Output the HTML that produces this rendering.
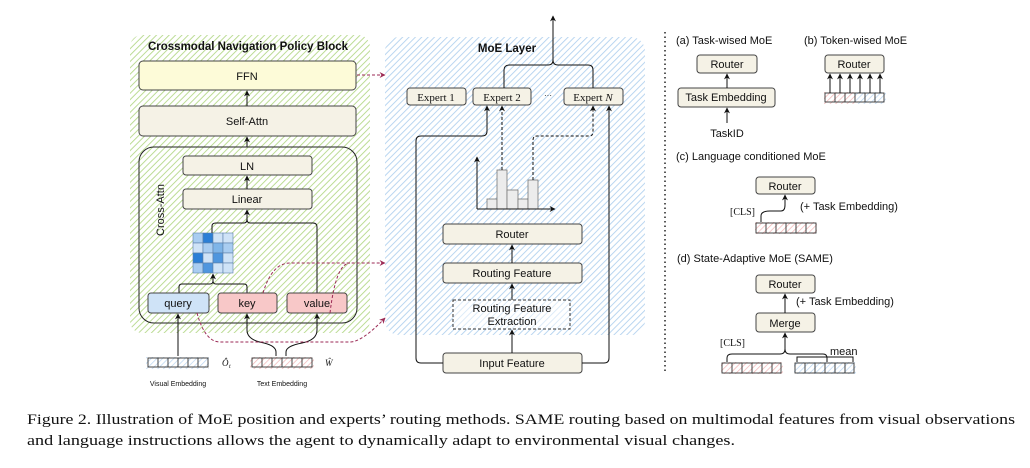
<!DOCTYPE html>
<html><head><meta charset="utf-8"><style>
html,body{margin:0;padding:0;background:#fff}
svg{display:block}
text{font-family:"Liberation Sans",sans-serif;fill:#111}
.s{font-family:"Liberation Serif",serif}
</style></head><body>
<svg width="1030" height="468" viewBox="0 0 1030 468" xmlns="http://www.w3.org/2000/svg">
<defs>
<pattern id="g" width="4.5" height="4.5" patternUnits="userSpaceOnUse" patternTransform="rotate(45)"><rect width="5" height="5" fill="#fff"/><line x1="0" y1="0" x2="0" y2="5" stroke="#b5d98a" stroke-width="1.8"/></pattern>
<pattern id="b" width="4.5" height="4.5" patternUnits="userSpaceOnUse" patternTransform="rotate(45)"><rect width="5" height="5" fill="#fff"/><line x1="0" y1="0" x2="0" y2="5" stroke="#b3d2ef" stroke-width="1.8"/></pattern>
<pattern id="r" width="4" height="4" patternUnits="userSpaceOnUse" patternTransform="rotate(45)"><rect width="4" height="4" fill="#fff"/><line x1="0" y1="0" x2="0" y2="4" stroke="#f2b3b3" stroke-width="1.4"/></pattern>
<pattern id="bl" width="4" height="4" patternUnits="userSpaceOnUse" patternTransform="rotate(45)"><rect width="4" height="4" fill="#fff"/><line x1="0" y1="0" x2="0" y2="4" stroke="#b7d4f0" stroke-width="1.4"/></pattern>
<marker id="a" viewBox="0 0 10 10" refX="9" refY="5" markerWidth="6" markerHeight="6" orient="auto-start-reverse"><path d="M0,0 L10,5 L0,10 L3,5z" fill="#111"/></marker>
<marker id="ar" viewBox="0 0 10 10" refX="9" refY="5" markerWidth="6" markerHeight="6" orient="auto"><path d="M0,0 L10,5 L0,10 L3,5z" fill="#9b2a55"/></marker>
</defs>

<!-- green block -->
<rect x="130" y="35" width="240" height="298" rx="12" fill="url(#g)"/>
<text x="248" y="50" font-size="11.5" font-weight="bold" text-anchor="middle">Crossmodal Navigation Policy Block</text>
<rect x="139" y="61" width="217" height="29" rx="4" fill="#fdfbd8" stroke="#444"/>
<text x="247" y="80" font-size="11" text-anchor="middle">FFN</text>
<rect x="139" y="106" width="217" height="30" rx="4" fill="#f5f2e6" stroke="#444"/>
<text x="247" y="125" font-size="11" text-anchor="middle">Self-Attn</text>
<line x1="247" y1="106" x2="247" y2="91" stroke="#111" marker-end="url(#a)"/>
<line x1="247" y1="147" x2="247" y2="137" stroke="#111" marker-end="url(#a)"/>
<rect x="139" y="147" width="218" height="176" rx="15" fill="none" stroke="#222"/>
<text transform="translate(164,210) rotate(-90)" font-size="11" text-anchor="middle">Cross-Attn</text>
<rect x="183" y="156" width="129" height="19" rx="3" fill="#f5f2e6" stroke="#444"/>
<text x="247" y="170" font-size="11" text-anchor="middle">LN</text>
<rect x="183" y="189" width="129" height="20" rx="3" fill="#f5f2e6" stroke="#444"/>
<text x="247" y="203" font-size="11" text-anchor="middle">Linear</text>
<line x1="247" y1="189" x2="247" y2="176" stroke="#111" marker-end="url(#a)"/>
<g stroke="#5a7fa8" stroke-width="0.6">
<rect x="193" y="233" width="10" height="10" fill="#a9cdf1"/><rect x="203" y="233" width="10" height="10" fill="#2b7fd6"/><rect x="213" y="233" width="10" height="10" fill="#cfe3f7"/><rect x="223" y="233" width="10" height="10" fill="#cfe3f7"/>
<rect x="193" y="243" width="10" height="10" fill="#cfe3f7"/><rect x="203" y="243" width="10" height="10" fill="#a9cdf1"/><rect x="213" y="243" width="10" height="10" fill="#7fb5e8"/><rect x="223" y="243" width="10" height="10" fill="#a9cdf1"/>
<rect x="193" y="253" width="10" height="10" fill="#2b7fd6"/><rect x="203" y="253" width="10" height="10" fill="#cfe3f7"/><rect x="213" y="253" width="10" height="10" fill="#4f96de"/><rect x="223" y="253" width="10" height="10" fill="#cfe3f7"/>
<rect x="193" y="263" width="10" height="10" fill="#a9cdf1"/><rect x="203" y="263" width="10" height="10" fill="#4f96de"/><rect x="213" y="263" width="10" height="10" fill="#cfe3f7"/><rect x="223" y="263" width="10" height="10" fill="#cfe3f7"/>
</g>
<path d="M212,233 V226 Q212,223 216,223 H244 Q247,223 247,219 Q247,223 250,223 H313 Q317,223 317,227 V293" fill="none" stroke="#111"/>
<line x1="247" y1="221" x2="247" y2="210" stroke="#111" marker-end="url(#a)"/>
<path d="M179,293 V287 Q179,284 182,284 H210 Q213,284 213,281 Q213,284 216,284 H244 Q247,284 247,287 V293" fill="none" stroke="#111"/>
<line x1="213" y1="283" x2="213" y2="274" stroke="#111" marker-end="url(#a)"/>
<rect x="148" y="293" width="61" height="20" rx="3" fill="#cfe3f7" stroke="#444"/>
<text x="178" y="307" font-size="11" text-anchor="middle">query</text>
<rect x="218" y="293" width="59" height="20" rx="3" fill="#f8c8c8" stroke="#444"/>
<text x="247" y="307" font-size="11" text-anchor="middle">key</text>
<rect x="287" y="293" width="60" height="20" rx="3" fill="#f8c8c8" stroke="#444"/>
<text x="317" y="307" font-size="11" text-anchor="middle">value</text>
<line x1="178" y1="356" x2="178" y2="314" stroke="#111" marker-end="url(#a)"/>
<path d="M276,356 V352 Q276,346 264,343 Q247,340 247,330 V314" fill="none" stroke="#111" marker-end="url(#a)"/>
<path d="M286,356 V352 Q286,346 302,343 Q317,340 317,330 V314" fill="none" stroke="#111" marker-end="url(#a)"/>
<rect x="146" y="357" width="63" height="12" fill="url(#bl)"/>
<rect x="250" y="357" width="64" height="12" fill="url(#r)"/>
<g stroke="#333" fill="none" stroke-width="0.9">
<rect x="148" y="358" width="60" height="9"/><path d="M158,358v9M168,358v9M178,358v9M188,358v9M198,358v9"/>
<rect x="252" y="358" width="60" height="9"/><path d="M262,358v9M272,358v9M282,358v9M292,358v9M302,358v9"/>
</g>
<text x="222" y="366" font-size="9" class="s" font-style="italic">Ô</text><text x="229" y="368" font-size="6" class="s" font-style="italic">t</text>
<text x="325" y="366" font-size="9" class="s" font-style="italic">Ŵ</text>
<text x="178" y="386" font-size="7" text-anchor="middle">Visual Embedding</text>
<text x="282" y="386" font-size="7" text-anchor="middle">Text Embedding</text>

<!-- MoE region -->
<rect x="385" y="37" width="260" height="298" rx="14" fill="url(#b)"/>
<text x="507" y="52" font-size="11.5" font-weight="bold" text-anchor="middle">MoE Layer</text>
<g font-size="11" class="s">
<rect x="407" y="88" width="59" height="17" rx="3" fill="#f5f2e6" stroke="#444"/><text x="436" y="101" text-anchor="middle" class="s">Expert 1</text>
<rect x="473" y="88" width="58" height="17" rx="3" fill="#f5f2e6" stroke="#444"/><text x="502" y="101" text-anchor="middle" class="s">Expert 2</text>
<rect x="564" y="88" width="59" height="17" rx="3" fill="#f5f2e6" stroke="#444"/><text x="593" y="101" text-anchor="middle" class="s">Expert <tspan font-style="italic">N</tspan></text>
</g>
<text x="548" y="98" font-size="8" text-anchor="middle">···</text>
<path d="M504,88 V70 Q504,65 510,65 H548 Q553,65 553,60 Q553,65 558,65 H588 Q593,65 593,70 V88" fill="none" stroke="#111"/>
<line x1="553" y1="62" x2="553" y2="16" stroke="#111" marker-end="url(#a)"/>
<g fill="#ececec" stroke="#777" stroke-width="0.8">
<rect x="487" y="199" width="10" height="10"/><rect x="497" y="170" width="10" height="39"/><rect x="507" y="190" width="11" height="19"/><rect x="518" y="199" width="10" height="10"/><rect x="528" y="180" width="10" height="29"/>
</g>
<path d="M477,209 V157" stroke="#111" fill="none" marker-end="url(#a)"/>
<path d="M477,209 H555" stroke="#111" fill="none" marker-end="url(#a)"/>
<line x1="502" y1="170" x2="502" y2="106" stroke="#111" stroke-dasharray="3,2" marker-end="url(#a)"/>
<path d="M533,180 V140 Q533,136 537,136 H589 Q593,136 593,132 V106" fill="none" stroke="#111" stroke-dasharray="3,2" marker-end="url(#a)"/>
<rect x="443" y="224" width="139" height="20" rx="3" fill="#f5f2e6" stroke="#444"/>
<text x="512" y="238" font-size="11" text-anchor="middle">Router</text>
<rect x="443" y="263" width="139" height="20" rx="3" fill="#f5f2e6" stroke="#444"/>
<text x="512" y="277" font-size="11" text-anchor="middle">Routing Feature</text>
<line x1="512" y1="263" x2="512" y2="245" stroke="#111" marker-end="url(#a)"/>
<rect x="453" y="300" width="117" height="29" fill="#fff" fill-opacity="0.5" stroke="#333" stroke-dasharray="3,2"/>
<text x="512" y="312" font-size="11" text-anchor="middle">Routing Feature</text>
<text x="512" y="325" font-size="11" text-anchor="middle">Extraction</text>
<line x1="512" y1="300" x2="512" y2="284" stroke="#111" marker-end="url(#a)"/>
<rect x="443" y="353" width="139" height="20" rx="3" fill="#f5f2e6" stroke="#444"/>
<text x="512" y="367" font-size="11" text-anchor="middle">Input Feature</text>
<line x1="512" y1="353" x2="512" y2="330" stroke="#111" marker-end="url(#a)"/>
<path d="M443,363 H421 Q416,363 416,358 V141 Q416,136 421,136 H482 Q487,136 487,131 V106" fill="none" stroke="#111" marker-end="url(#a)"/>
<path d="M582,363 H604 Q609,363 609,358 V106" fill="none" stroke="#111" marker-end="url(#a)"/>

<g fill="none" stroke="#9b2a55" stroke-dasharray="3,2" stroke-width="1">
<path d="M357,75 H385" marker-end="url(#ar)"/>
<path d="M263,293 Q272,263 290,263 H385" marker-end="url(#ar)"/>
<path d="M330,313 Q336,263 350,263"/>
<path d="M197,313 Q205,342 220,342 H350 Q362,342 385,318" marker-end="url(#ar)"/>
</g>

<line x1="665" y1="32" x2="665" y2="372" stroke="#222" stroke-width="1.5" stroke-dasharray="1.5,3"/>

<g font-size="11">
<text x="676" y="44">(a) Task-wised MoE</text>
<text x="804" y="44">(b) Token-wised MoE</text>
<text x="676" y="160">(c) Language conditioned MoE</text>
<text x="677" y="262">(d) State-Adaptive MoE (SAME)</text>
</g>
<rect x="697" y="55" width="60" height="18" rx="3" fill="#f5f2e6" stroke="#444"/>
<text x="727" y="68" font-size="11" text-anchor="middle">Router</text>
<rect x="678" y="88" width="97" height="19" rx="3" fill="#f5f2e6" stroke="#444"/>
<text x="726" y="101" font-size="11" text-anchor="middle">Task Embedding</text>
<line x1="727" y1="88" x2="727" y2="74" stroke="#111" marker-end="url(#a)"/>
<line x1="727" y1="123" x2="727" y2="108" stroke="#111" marker-end="url(#a)"/>
<text x="727" y="137" font-size="11" text-anchor="middle">TaskID</text>

<rect x="825" y="55" width="59" height="18" rx="3" fill="#f5f2e6" stroke="#444"/>
<text x="854" y="68" font-size="11" text-anchor="middle">Router</text>
<rect x="824" y="92" width="31" height="12" fill="url(#r)"/><rect x="855" y="92" width="31" height="12" fill="url(#bl)"/>
<g stroke="#333" fill="none" stroke-width="0.9"><rect x="825" y="93" width="59" height="9"/><path d="M835,93v9M845,93v9M855,93v9M865,93v9M875,93v9"/></g>
<g stroke="#111"><line x1="830" y1="93" x2="830" y2="74" marker-end="url(#a)"/><line x1="840" y1="93" x2="840" y2="74" marker-end="url(#a)"/><line x1="850" y1="93" x2="850" y2="74" marker-end="url(#a)"/><line x1="860" y1="93" x2="860" y2="74" marker-end="url(#a)"/><line x1="870" y1="93" x2="870" y2="74" marker-end="url(#a)"/><line x1="880" y1="93" x2="880" y2="74" marker-end="url(#a)"/></g>

<rect x="756" y="177" width="59" height="17" rx="3" fill="#f5f2e6" stroke="#444"/>
<text x="785" y="190" font-size="11" text-anchor="middle">Router</text>
<path d="M761,223 V216 Q761,211 770,211 H781 Q785,211 785,205 V195" fill="none" stroke="#111" marker-end="url(#a)"/>
<text x="730" y="215" font-size="10" class="s">[CLS]</text>
<text x="800" y="210" font-size="11">(+ Task Embedding)</text>
<rect x="755" y="222" width="62" height="12" fill="url(#r)"/>
<g stroke="#333" fill="none" stroke-width="0.9"><rect x="756" y="223" width="60" height="10"/><path d="M766,223v10M776,223v10M786,223v10M796,223v10M806,223v10"/></g>

<rect x="756" y="275" width="59" height="18" rx="3" fill="#f5f2e6" stroke="#444"/>
<text x="785" y="288" font-size="11" text-anchor="middle">Router</text>
<rect x="756" y="313" width="59" height="19" rx="3" fill="#f5f2e6" stroke="#444"/>
<text x="785" y="327" font-size="11" text-anchor="middle">Merge</text>
<line x1="785" y1="313" x2="785" y2="294" stroke="#111" marker-end="url(#a)"/>
<text x="796" y="305" font-size="11">(+ Task Embedding)</text>
<path d="M727,363 V358 Q727,354 732,354 H780 Q785,354 785,349 Q785,354 790,354 H823 Q827,354 827,358 V363" fill="none" stroke="#111"/>
<line x1="785" y1="351" x2="785" y2="333" stroke="#111" marker-end="url(#a)"/>
<text x="720" y="346" font-size="10" class="s">[CLS]</text>
<text x="830" y="355" font-size="11">mean</text>
<path d="M797,363 V357 H853 V363" fill="none" stroke="#111"/>
<rect x="721" y="362" width="62" height="12" fill="url(#r)"/><rect x="794" y="362" width="62" height="12" fill="url(#bl)"/>
<g stroke="#333" fill="none" stroke-width="0.9">
<rect x="722" y="363" width="59" height="10"/><path d="M732,363v10M742,363v10M752,363v10M762,363v10M772,363v10"/>
<rect x="795" y="363" width="59" height="10"/><path d="M805,363v10M815,363v10M825,363v10M835,363v10M845,363v10"/>
</g>

<text x="27" y="424" font-size="15" class="s" textLength="988" lengthAdjust="spacingAndGlyphs">Figure 2. Illustration of MoE position and experts’ routing methods. SAME routing based on multimodal features from visual observations</text>
<text x="27" y="445" font-size="15" class="s" textLength="708" lengthAdjust="spacingAndGlyphs">and language instructions allows the agent to dynamically adapt to environmental visual changes.</text>
</svg>
</body></html>
